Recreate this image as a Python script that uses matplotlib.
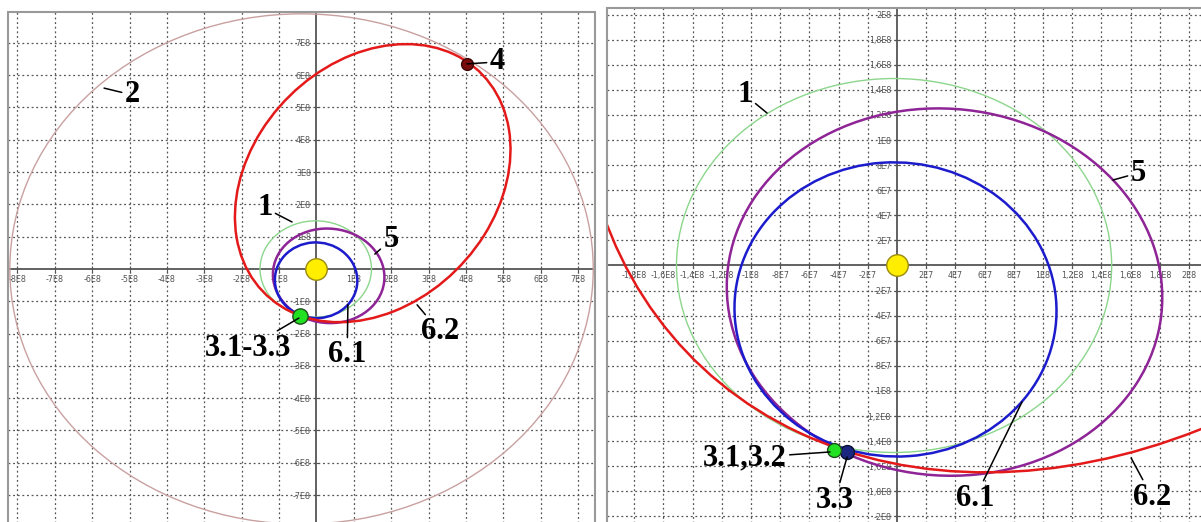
import matplotlib.pyplot as plt
from matplotlib.patches import Ellipse, Rectangle
from matplotlib.ticker import FixedLocator, FixedFormatter

E8 = 1e8

# orbits: name, centre x, centre y, semi-axis a, semi-axis b, angle of a (deg)
orbit_names = ['1', '2', '5', '6.1', '6.2']
orbit_cx = [-0.02 * E8, -0.40 * E8, 0.3254 * E8, -0.0104 * E8, 1.5031 * E8]
orbit_cy = [0.0, 0.0, -0.2119 * E8, -0.3502 * E8, 2.6573 * E8]
orbit_a = [1.49 * E8, 7.80 * E8, 1.5032 * E8, 1.1726 * E8, 4.5430 * E8]
orbit_b = [1.49 * E8, 7.90 * E8, 1.4515 * E8, 1.1022 * E8, 3.3878 * E8]
orbit_ang = [0.0, 0.0, 151.0, -85.5, -118.6]
orbit_col = ['#8cd68c', '#c9a0a0', '#8e2496', '#1c1ccc', '#e41a1a']
orbit_lw = [1.0, 1.0, 1.8, 1.8, 1.8]

# points on the orbits
pt3_12 = (-0.43 * E8, -1.47 * E8)
pt3_3 = (-0.34 * E8, -1.49 * E8)
pt4 = (4.02 * E8, 6.35 * E8)

# ticks
left_xt = [-8, -7, -6, -5, -4, -3, -2, -1, 1, 2, 3, 4, 5, 6, 7]
left_yt = [-7, -6, -5, -4, -3, -2, -1, 1, 2, 3, 4, 5, 6, 7]
right_xt = [-1.8, -1.6, -1.4, -1.2, -1.0, -0.8, -0.6, -0.4, -0.2,
            0.2, 0.4, 0.6, 0.8, 1.0, 1.2, 1.4, 1.6, 1.8, 2.0]
right_yt = [-2.0, -1.8, -1.6, -1.4, -1.2, -1.0, -0.8, -0.6, -0.4, -0.2,
            0.2, 0.4, 0.6, 0.8, 1.0, 1.2, 1.4, 1.6, 1.8, 2.0]

# labels: text, text position, end of leader line (units 1E8)
left_labels = [('2', (-4.93, 5.39), (-5.68, 5.60)),
               ('4', (4.83, 6.41), (4.02, 6.35)),
               ('1', (-1.38, 1.89), (-0.655, 1.455)),
               ('5', (1.99, 0.90), (1.56, 0.46)),
               ('3.1-3.3', (-1.83, -2.45), (-0.47, -1.52)),
               ('6.1', (0.82, -2.66), (0.84, -1.11)),
               ('6.2', (3.30, -1.95), (2.69, -1.11))]
right_labels = [('1', (-1.041, 1.359), (-0.890, 1.215)),
                ('5', (1.651, 0.737), (1.479, 0.681)),
                ('3.1,3.2', (-1.041, -1.534), (-0.459, -1.486)),
                ('3.3', (-0.425, -1.869), (-0.342, -1.526)),
                ('6.1', (0.534, -1.853), (0.856, -1.088)),
                ('6.2', (1.747, -1.845), (1.603, -1.534))]


def tick_text(v):
    # 2E7, 1E8, 1,2E8 style
    if abs(v) < 1:
        s = '%gE7' % (v * 10)
    else:
        s = ('%gE8' % v).replace('.', ',')
    return s


def setup(ax, xt, yt, xfmt, yfmt):
    ax.spines['left'].set_position('zero')
    ax.spines['bottom'].set_position('zero')
    ax.spines['top'].set_visible(False)
    ax.spines['right'].set_visible(False)
    for s in ['left', 'bottom']:
        ax.spines[s].set_color('#555555')
        ax.spines[s].set_linewidth(1.3)
    ax.add_patch(Rectangle((0, 0), 1, 1, transform=ax.transAxes, fill=False,
                           ec='#999999', lw=1.5, clip_on=False, zorder=5))
    ax.xaxis.set_major_locator(FixedLocator([v * E8 for v in xt]))
    ax.yaxis.set_major_locator(FixedLocator([v * E8 for v in yt]))
    ax.xaxis.set_major_formatter(FixedFormatter([xfmt(v) for v in xt]))
    ax.yaxis.set_major_formatter(FixedFormatter([yfmt(v) for v in yt]))
    ax.tick_params(direction='inout', length=4, width=0.8, color='#555555',
                   labelsize=5.8, labelcolor='#555555', pad=2)
    ax.grid(True, ls=(0, (1.5, 2.2)), color='#555555', lw=0.9)
    ax.set_axisbelow(True)


def draw(ax, labels, fs, dot_ms, with_33):
    for cx, cy, a, b, ang, c, lw in zip(orbit_cx, orbit_cy, orbit_a, orbit_b,
                                        orbit_ang, orbit_col, orbit_lw):
        ax.add_patch(Ellipse((cx, cy), 2 * a, 2 * b, angle=ang, fill=False,
                             ec=c, lw=lw, zorder=3))
    ax.plot(0, 0, 'o', ms=15.5, mfc='#ffee00', mec='#9a8a10', mew=1, zorder=6)
    ax.plot(*pt3_12, 'o', ms=dot_ms, mfc='#22e022', mec='#1d4d1d', mew=1, zorder=7)
    if with_33:
        ax.plot(*pt3_3, 'o', ms=dot_ms, mfc='#1a2680', mec='#0a0f30', mew=1, zorder=6)
    else:
        ax.plot(*pt4, 'o', ms=8.5, mfc='#7a0c0c', mec='#3a0505', mew=1, zorder=7)
    for t, (tx, ty), (px, py) in labels:
        ax.annotate(t, xy=(px * E8, py * E8), xytext=(tx * E8, ty * E8),
                    ha='center', va='center', fontsize=fs, fontweight='bold',
                    family='Liberation Serif', zorder=8,
                    arrowprops=dict(arrowstyle='-', color='black', lw=1.1,
                                    shrinkA=0, shrinkB=0))


fig = plt.figure(figsize=(12.01, 5.22), dpi=100)

# left panel: whole picture
ax1 = fig.add_axes([8 / 1201, -5 / 522, 587 / 1201, 515 / 522])
ax1.set_xlim(-8.249 * E8, 7.447 * E8)
ax1.set_ylim(-7.99 * E8, 7.957 * E8)
setup(ax1, left_xt, left_yt, lambda v: '%dE8' % v, lambda v: '%dE8' % v)
draw(ax1, left_labels, 22, 11, False)

# right panel: close-up near the Sun
ax2 = fig.add_axes([607 / 1201, -5 / 522, 599 / 1201, 519 / 522])
ax2.set_xlim(-1.986 * E8, 2.116 * E8)
ax2.set_ylim(-2.084 * E8, 2.052 * E8)
setup(ax2, right_xt, right_yt, tick_text, tick_text)
draw(ax2, right_labels, 22, 10, True)

fig.savefig('out.png', dpi=100)
